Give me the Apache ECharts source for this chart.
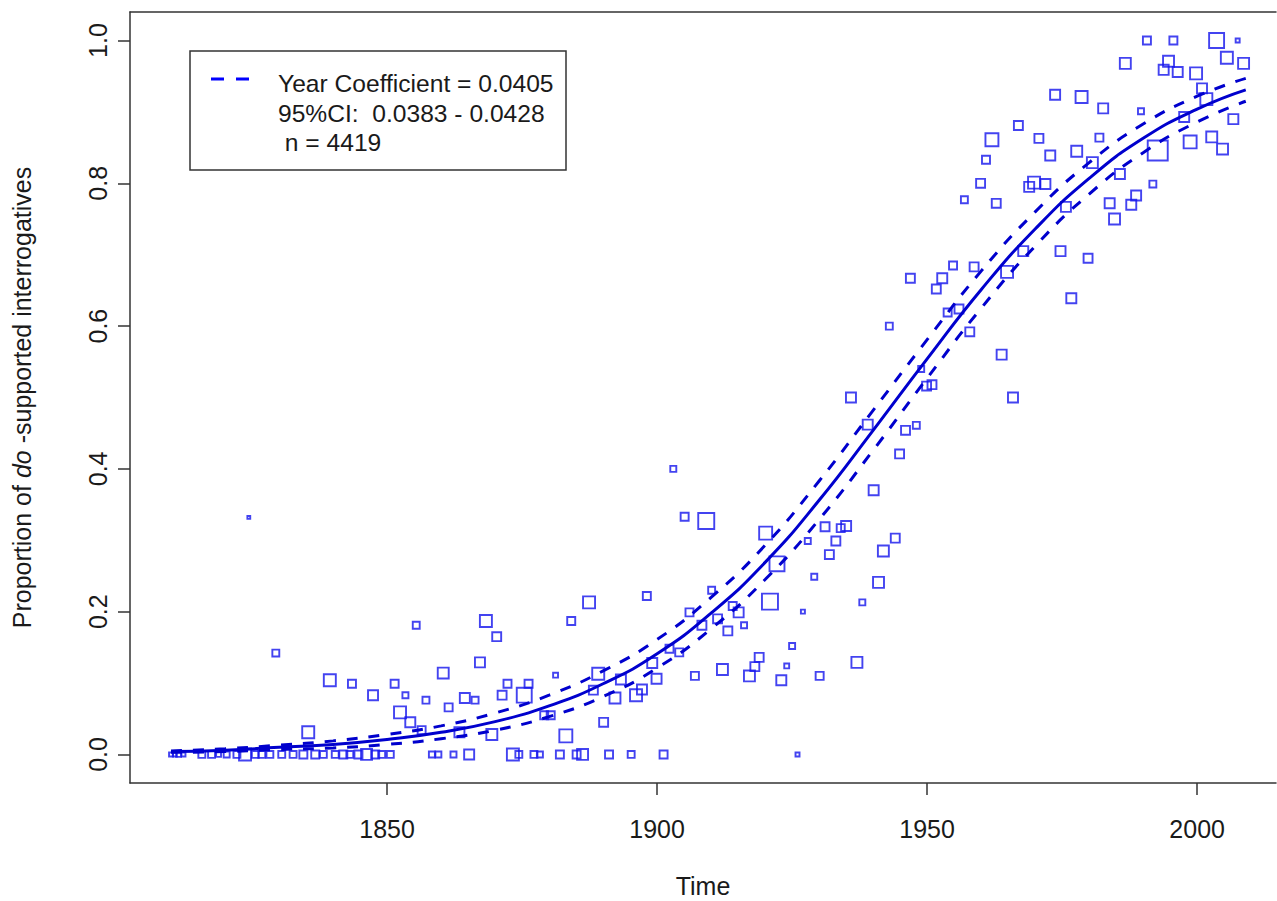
<!DOCTYPE html>
<html>
<head>
<meta charset="utf-8">
<script src="https://cdn.jsdelivr.net/npm/echarts@6/dist/echarts.min.js"></script>
<style>
html,body{margin:0;padding:0;background:#fff;}
#chart{width:1277px;height:901px;}
</style>
</head>
<body>
<div id="chart"></div>
<script>
// ---- tick labels ----
const xTicks = [1850, 1900, 1950, 2000];
const yTicks = [0, 0.2, 0.4, 0.6, 0.8, 1.0];

// ---- fitted logistic curve and 95% band ----
const fitYears = [1810,1820,1830,1840,1850,1860,1870,1880,1890,1900,1910,1920,1930,1940,1950,1960,1970,1980,1990,2000,2009];
const fitMean  = [0.004,0.006,0.010,0.014,0.021,0.031,0.046,0.068,0.099,0.141,0.198,0.269,0.356,0.454,0.554,0.651,0.736,0.807,0.863,0.904,0.931];
const fitUpper = [0.005,0.008,0.013,0.019,0.028,0.040,0.058,0.083,0.117,0.161,0.220,0.293,0.383,0.482,0.581,0.677,0.760,0.829,0.883,0.922,0.947];
const fitLower = [0.003,0.004,0.007,0.009,0.014,0.022,0.034,0.053,0.081,0.121,0.176,0.245,0.329,0.426,0.527,0.625,0.712,0.785,0.843,0.886,0.915];

// ---- observations: [year, proportion, n tokens] ----
const obsZero = [
  [1810.0,0,4],[1810.7,0,4],[1811.4,0,6],[1812.3,0,4],[1815.7,0,12],[1817.5,0,12],[1818.8,0,6],
  [1820.3,0,9],[1822.2,0,12],[1823.7,0,36],[1825.6,0,12],[1826.8,0,12],[1828.3,0,12],[1830.5,0,12],
  [1832.6,0,12],[1834.5,0,16],[1836.7,0,16],[1838.2,0,12],[1840.4,0,12],[1841.9,0,16],[1843.1,0,12],
  [1844.7,0,16],[1846.2,0,30],[1847.8,0,16],[1849.0,0,12],[1850.6,0,12],[1858.3,0,9],[1859.5,0,9],
  [1862.3,0,9],[1865.2,0,25],[1873.3,0,36],[1874.4,0,12],[1877.2,0,12],[1878.3,0,9],[1882.0,0,16],
  [1885.1,0,16],[1886.2,0,30],[1891.1,0,16],[1895.2,0,12],[1901.2,0,16],[1926.0,0,4]
];
const obs1800s = [
  [1824.4,0.332,2],[1829.4,0.142,12],[1835.4,0.031,36],[1839.4,0.104,36],[1843.5,0.099,16],
  [1847.4,0.083,25],[1851.4,0.099,16],[1852.4,0.059,36],[1853.4,0.083,9],[1854.3,0.045,25],
  [1855.4,0.181,12],[1856.4,0.034,16],[1857.2,0.076,12],[1860.4,0.114,30],[1861.4,0.066,16],
  [1863.4,0.031,25],[1864.4,0.079,25],[1866.3,0.076,12],[1867.2,0.129,25],[1868.3,0.187,36],
  [1869.4,0.028,30],[1870.3,0.165,20],[1871.3,0.083,20],[1872.3,0.099,16],[1875.4,0.083,56],
  [1876.2,0.099,16],[1879.1,0.055,16],[1880.3,0.055,16],[1881.2,0.111,6],[1883.1,0.026,42],
  [1884.1,0.187,16],[1887.4,0.213,36],[1888.2,0.090,20],[1889.1,0.113,36],[1890.1,0.045,20],
  [1892.2,0.079,30],[1893.3,0.105,25],[1896.1,0.083,36],[1897.2,0.091,25],[1898.1,0.222,16],
  [1899.1,0.128,25],[1899.9,0.106,25]
];
const obs1900s = [
  [1902.3,0.148,16],[1903.0,0.400,9],[1904.1,0.143,16],[1905.1,0.333,16],[1906.0,0.199,16],
  [1907.0,0.110,16],[1908.3,0.181,20],[1909.1,0.327,64],[1910.1,0.230,12],[1911.2,0.190,20],
  [1912.1,0.119,30],[1913.1,0.173,20],[1914.0,0.208,16],[1915.1,0.199,25],[1916.1,0.181,9],
  [1917.1,0.110,30],[1918.1,0.123,20],[1918.9,0.136,20],[1920.1,0.310,42],[1920.9,0.214,64],
  [1922.2,0.267,56],[1923.0,0.104,25],[1924.0,0.124,6],[1925.0,0.152,9],[1927.0,0.200,4],
  [1927.9,0.299,9],[1929.1,0.249,9],[1930.1,0.110,16],[1931.1,0.319,20],[1931.9,0.280,20],
  [1933.1,0.299,20],[1934.0,0.317,16],[1935.0,0.320,25],[1935.9,0.500,25],[1937.0,0.129,30],
  [1938.0,0.213,9],[1939.0,0.462,25],[1940.1,0.370,25],[1941.0,0.241,30],[1941.9,0.285,30],
  [1943.0,0.600,12],[1944.1,0.303,20],[1944.9,0.421,20],[1946.0,0.454,20],[1946.9,0.667,20],
  [1948.0,0.461,12],[1948.9,0.540,9],[1949.9,0.516,20]
];
const obs1950s = [
  [1950.9,0.518,20],[1951.7,0.652,20],[1952.8,0.667,25],[1953.8,0.619,16],[1954.8,0.685,16],
  [1955.9,0.624,20],[1956.9,0.777,12],[1957.9,0.592,20],[1958.7,0.683,20],[1959.9,0.800,20],
  [1960.9,0.833,16],[1962.0,0.861,42],[1962.8,0.772,20],[1963.8,0.560,25],[1964.8,0.676,36],
  [1965.9,0.500,25],[1966.9,0.881,20],[1967.8,0.705,25],[1968.9,0.795,25],[1969.8,0.801,36],
  [1970.7,0.863,20],[1971.9,0.799,25],[1972.8,0.839,25],[1973.7,0.924,25],[1974.7,0.705,25],
  [1975.7,0.767,25],[1976.7,0.639,25],[1977.7,0.845,30],[1978.6,0.921,36],[1979.8,0.695,20],
  [1980.6,0.829,30],[1981.9,0.864,16],[1982.6,0.905,25],[1983.8,0.772,25],[1984.7,0.750,30],
  [1985.7,0.813,25],[1986.7,0.968,30],[1987.8,0.770,25],[1988.7,0.783,25],[1989.6,0.901,9],
  [1990.7,1.000,16],[1991.8,0.799,12],[1992.7,0.846,100],[1993.8,0.959,25],[1994.7,0.971,30],
  [1995.6,1.000,16],[1996.4,0.956,25],[1997.6,0.893,25],[1998.7,0.858,42],[1999.8,0.954,36],
  [2000.9,0.933,25],[2001.7,0.918,36],[2002.7,0.865,30],[2003.6,1.000,56],[2004.7,0.848,30],
  [2005.5,0.976,36],[2006.7,0.890,25],[2007.5,1.000,4],[2008.6,0.968,30]
];

// ---- legend text ----
const legendLines = ['Year Coefficient = 0.0405', '95%CI:  0.0383 - 0.0428', ' n = 4419'];
const xTitle = 'Time';
const yTitleParts = ['Proportion of ', 'do', ' -supported interrogatives'];

const FONT = '"Liberation Sans", Arial, sans-serif';
const FS = 25;
const TXT = '#1a1a1a';
const BOX = '#333';
const allObs = obsZero.concat(obs1800s, obs1900s, obs1950s);
const zip = (a, b) => a.map((v, i) => [v, b[i]]);
const X_MIN = 1802.4, X_MAX = 2014.6;

const chart = echarts.init(document.getElementById('chart'), null, {renderer: 'svg'});
chart.setOption({
  animation: false,
  backgroundColor: '#fff',
  grid: {left: 130, top: 12, width: 1146, height: 771, show: false,
         containLabel: false, outerBoundsMode: 'none'},
  xAxis: [{
    type: 'value', min: X_MIN, max: X_MAX, position: 'bottom',
    axisLine: {show: true, onZero: false, lineStyle: {color: BOX, width: 1.5}},
    splitLine: {show: false},
    axisTick: {show: true, length: 12, customValues: xTicks, lineStyle: {color: BOX, width: 1.5}},
    axisLabel: {customValues: xTicks, margin: 33, fontSize: FS, color: TXT, fontFamily: FONT,
                formatter: v => String(v)},
    name: xTitle, nameLocation: 'middle', nameGap: 90,
    nameTextStyle: {fontSize: FS, color: TXT, fontFamily: FONT}
  }, {
    type: 'value', min: X_MIN, max: X_MAX, position: 'top',
    axisLine: {show: true, onZero: false, lineStyle: {color: BOX, width: 1.5}},
    splitLine: {show: false}, axisTick: {show: false}, axisLabel: {show: false}
  }],
  yAxis: {
    type: 'value', min: -0.04, max: 1.04,
    axisLine: {show: true, onZero: false, lineStyle: {color: BOX, width: 1.5}},
    splitLine: {show: false},
    axisTick: {show: true, length: 12, customValues: yTicks, lineStyle: {color: BOX, width: 1.5}},
    axisLabel: {customValues: yTicks, rotate: 90, margin: 20, fontSize: FS, color: TXT, fontFamily: FONT,
                formatter: v => v.toFixed(1)},
    name: '{a|' + yTitleParts[0] + '}{i|' + yTitleParts[1] + '}{a|' + yTitleParts[2] + '}',
    nameLocation: 'middle', nameGap: 96, nameRotate: 90,
    nameTextStyle: {fontSize: FS, color: TXT, fontFamily: FONT,
      rich: {a: {fontSize: FS, color: TXT, fontFamily: FONT},
             i: {fontSize: FS, color: TXT, fontFamily: FONT, fontStyle: 'italic'}}}
  },
  series: [
    {type: 'scatter', data: allObs, symbol: 'rect',
     symbolSize: d => 2 * Math.sqrt(d[2]),
     itemStyle: {color: 'rgba(0,0,0,0)', borderColor: '#1414ec', borderWidth: 1.9}},
    {type: 'line', data: zip(fitYears, fitUpper), smooth: true, showSymbol: false,
     lineStyle: {color: '#0000cd', width: 3, type: [11, 11]}},
    {type: 'line', data: zip(fitYears, fitLower), smooth: true, showSymbol: false,
     lineStyle: {color: '#0000cd', width: 3, type: [11, 11]}},
    {type: 'line', data: zip(fitYears, fitMean), smooth: true, showSymbol: false,
     lineStyle: {color: '#0000cd', width: 3}}
  ],
  graphic: [
    {type: 'rect', shape: {x: 190, y: 51, width: 376, height: 119},
     style: {fill: '#fff', stroke: BOX, lineWidth: 1.5}, z: 100},
    {type: 'line', shape: {x1: 211, y1: 79, x2: 250, y2: 79},
     style: {stroke: '#0000ff', lineWidth: 3, lineDash: [13, 12]}, z: 101},
    {type: 'text', x: 278, y: 83, z: 101,
     style: {text: legendLines[0], fontSize: 24.6, fill: TXT, fontFamily: FONT, verticalAlign: 'middle'}},
    {type: 'text', x: 278, y: 113, z: 101,
     style: {text: legendLines[1], fontSize: 24.6, fill: TXT, fontFamily: FONT, verticalAlign: 'middle'}},
    {type: 'text', x: 278, y: 142, z: 101,
     style: {text: legendLines[2], fontSize: 24.6, fill: TXT, fontFamily: FONT, verticalAlign: 'middle', whiteSpace: 'pre'}}
  ]
});
</script>
</body>
</html>
